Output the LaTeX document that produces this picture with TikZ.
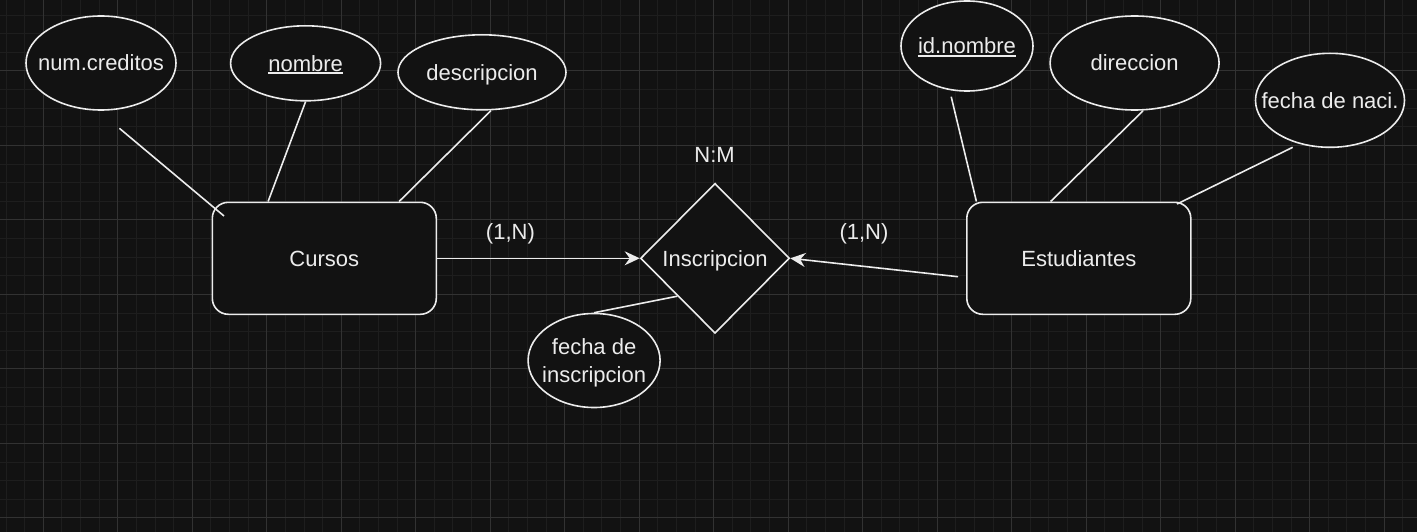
\documentclass[tikz,border=0pt]{standalone}
\usepackage{fontspec}
\setmainfont{Liberation Sans}
\usetikzlibrary{shapes.geometric,arrows.meta,calc}
\definecolor{bg}{RGB}{18,18,18}
\definecolor{gminor}{RGB}{30,30,30}
\definecolor{gmajor}{RGB}{50,50,50}
\definecolor{ink}{RGB}{236,236,236}
\begin{document}
\begin{tikzpicture}[x=1pt,y=-1pt,
  minorgrid/.style={draw=gminor,line width=1pt},
  majorgrid/.style={draw=gmajor,line width=1pt},
  shapeline/.style={draw=ink,line width=1.6pt,fill=bg},
  attr/.style={shapeline,ellipse,inner sep=0pt},
  entity/.style={shapeline,rectangle,rounded corners=16pt,inner sep=0pt,minimum width=224pt,minimum height=112pt},
  rel/.style={shapeline,diamond,inner sep=0pt,minimum width=149pt,minimum height=150pt},
  txt/.style={text=ink,font=\fontsize{22}{27.6}\selectfont,inner sep=0pt,text height=15.8pt,text depth=0pt},
  txtml/.style={text=ink,font=\fontsize{22}{27.6}\selectfont,inner sep=0pt,align=center},
  conn/.style={draw=ink,line width=1.6pt},
  arr/.style={conn,-{Stealth[length=15pt,width=14pt,inset=5pt]}},
  uline/.style={draw=ink,line width=1.4pt}
]
\useasboundingbox (0,0) rectangle (1417,532);
\fill[bg] (0,0) rectangle (1417,532);
% grid
\foreach \i in {-2,...,74} \draw[minorgrid] ({43.3+\i*18.6225},0) -- ++(0,532);
\foreach \j in {-3,...,25} \draw[minorgrid] (0,{71+\j*18.6225}) -- ++(1417,0);
\foreach \i in {0,...,18} \draw[majorgrid] ({43.3+\i*74.49},0) -- ++(0,532);
\foreach \j in {0,...,6} \draw[majorgrid] (0,{71+\j*74.49}) -- ++(1417,0);

% shapes
\node[attr,minimum width=150pt,minimum height=94pt] (numc) at (101,63) {};
\node[attr,minimum width=150pt,minimum height=75pt] (nomb) at (305.6,63.3) {};
\node[attr,minimum width=168pt,minimum height=75pt] (desc) at (482,72.3) {};
\node[attr,minimum width=132pt,minimum height=90pt] (idn) at (967,46) {};
\node[attr,minimum width=169pt,minimum height=94pt] (dire) at (1134.6,63) {};
\node[attr,minimum width=149pt,minimum height=94pt] (fnac) at (1330,100.3) {};
\node[attr,minimum width=132pt,minimum height=94pt] (fins) at (594.1,360.5) {};
\node[entity] (cur) at (324.3,258.3) {};
\node[entity] (est) at (1078.8,258.3) {};
\node[rel] (ins) at (715,258.3) {};

% texts
\node[txt] (tnumc) at (numc) {num.creditos};
\node[txt] (tnomb) at (nomb) {nombre};
\draw[uline] ([yshift=-1.8pt]tnomb.south west) -- ([yshift=-1.8pt]tnomb.south east);
\node[txt] (tdesc) at (desc) {descripcion};
\node[txt] (tidn) at (idn) {id.nombre};
\draw[uline] ([yshift=-1.8pt]tidn.south west) -- ([yshift=-1.8pt]tidn.south east);
\node[txt] (tdire) at (dire) {direccion};
\node[txt] (tfnac) at (fnac) {fecha de naci.};
\node[txtml] (tfins) at ($(fins)+(0,2.2)$) {fecha de\\inscripcion};
\node[txt] (tcur) at (cur) {Cursos};
\node[txt] (test) at (est) {Estudiantes};
\node[txt] (tins) at (ins) {Inscripcion};
\node[txt] (lnm) at (714.6,155) {N:M};
\node[txt] (l1n) at (510.4,231.5) {(1,N)};
\node[txt] (l2n) at (864,231.5) {(1,N)};

% connectors
\coordinate (a1) at (119.4,128.3);
\coordinate (a2) at (224,216);
\draw[conn] (a1) -- (a2);
\draw[conn] (nomb.south) -- ($(cur.north west)+(56.6,0)$);
\draw[conn] ($(desc.south)+(9,0)$) -- ($(cur.north west)+(187.6,0)$);
\coordinate (b1) at (951.2,96.7);
\draw[conn] (b1) -- ($(est.north west)+(10.4,0)$);
\draw[conn] ($(dire.south)+(8.4,0)$) -- ($(est.north west)+(84.6,0)$);
\coordinate (c1) at (1292.7,147.3);
\coordinate (c2) at (1177,204);
\draw[conn] (c1) -- (c2);
\draw[conn] (fins.north) -- ($(ins.west)!0.5!(ins.south)$);
\draw[arr] (cur.east) -- (ins.west);
\coordinate (d1) at (958,276.7);
\draw[arr] (d1) -- (ins.east);
\end{tikzpicture}
\end{document}
